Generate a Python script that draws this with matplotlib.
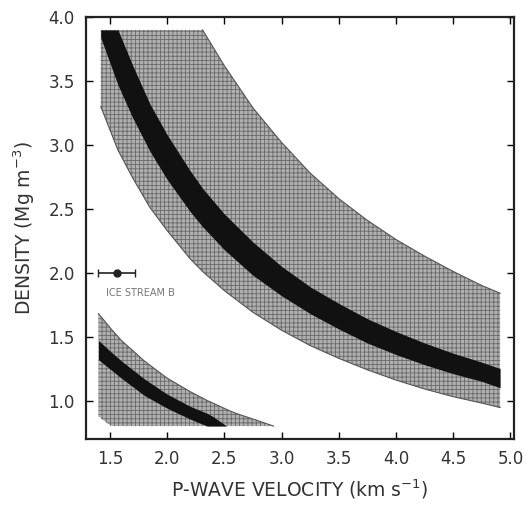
import matplotlib.pyplot as plt

# velocities (km/s) and densities (Mg/m3)
# upper band (big one)
v_up = [1.42, 1.57, 1.7, 1.85, 2.0, 2.2, 2.31, 2.5, 2.75, 3.0, 3.25, 3.5, 3.75, 4.0, 4.25, 4.5, 4.75, 4.91]
up_top = [3.90, 3.90, 3.90, 3.90, 3.90, 3.90, 3.90, 3.62, 3.29, 3.02, 2.78, 2.58, 2.41, 2.26, 2.13, 2.01, 1.90, 1.84]
up_bot = [3.30, 2.96, 2.74, 2.51, 2.33, 2.11, 2.01, 1.86, 1.69, 1.55, 1.43, 1.33, 1.24, 1.16, 1.09, 1.03, 0.98, 0.945]
up_blk_top = [3.90, 3.90, 3.62, 3.32, 3.08, 2.80, 2.66, 2.46, 2.24, 2.05, 1.89, 1.76, 1.64, 1.54, 1.45, 1.37, 1.30, 1.25]
up_blk_bot = [3.84, 3.47, 3.21, 2.95, 2.73, 2.48, 2.36, 2.18, 1.98, 1.82, 1.68, 1.56, 1.45, 1.36, 1.28, 1.21, 1.15, 1.10]

# lower band
v_lo = [1.40, 1.51, 1.6, 1.8, 2.0, 2.2, 2.35, 2.4, 2.52, 2.6, 2.8, 2.93]
lo_top = [1.68, 1.56, 1.47, 1.31, 1.175, 1.07, 1.00, 0.98, 0.93, 0.90, 0.84, 0.80]
lo_bot = [0.875, 0.80, 0.80, 0.80, 0.80, 0.80, 0.80, 0.80, 0.80, 0.80, 0.80, 0.80]
lo_blk_top = [1.47, 1.38, 1.31, 1.17, 1.05, 0.955, 0.90, 0.875, 0.80, 0.80, 0.80, 0.80]
lo_blk_bot = [1.32, 1.24, 1.175, 1.04, 0.94, 0.855, 0.80, 0.80, 0.80, 0.80, 0.80, 0.80]

# Ice Stream B point
isb_v = 1.56
isb_rho = 2.0
isb_err = 0.16

plt.rcParams['hatch.linewidth'] = 0.6
fig = plt.figure(figsize=(5.27, 5.05), dpi=100)
ax = fig.add_axes([0.163, 0.131, 0.812, 0.835])

gray = '#b0b0b0'
hatch_col = '#6a6a6a'

# big band
ax.fill_between(v_up, up_bot, up_top, facecolor=gray, edgecolor=hatch_col, hatch='++++', linewidth=0)
ax.plot(v_up[6:], up_top[6:], color='#555555', lw=0.8)
ax.plot(v_up, up_bot, color='#555555', lw=0.8)
ax.fill_between(v_up, up_blk_bot, up_blk_top, color='#111111', linewidth=0)

# small band
ax.fill_between(v_lo, lo_bot, lo_top, facecolor=gray, edgecolor=hatch_col, hatch='++++', linewidth=0)
ax.plot(v_lo, lo_top, color='#555555', lw=0.8)
ax.fill_between(v_lo, lo_blk_bot, lo_blk_top, color='#111111', linewidth=0)

# Ice Stream B
ax.errorbar(isb_v, isb_rho, xerr=isb_err, fmt='o', color='#222222', ms=5, capsize=3, elinewidth=1.2)
ax.text(1.465, 1.84, 'ICE STREAM B', fontsize=7, color='#777777', va='center')

ax.set_xlim(1.29, 5.03)
ax.set_ylim(0.70, 4.0)
ax.set_xticks([1.5, 2.0, 2.5, 3.0, 3.5, 4.0, 4.5, 5.0])
ax.set_yticks([1.0, 1.5, 2.0, 2.5, 3.0, 3.5, 4.0])
ax.set_xticklabels(['1.5', '2.0', '2.5', '3.0', '3.5', '4.0', '4.5', '5.0'])
ax.set_yticklabels(['1.0', '1.5', '2.0', '2.5', '3.0', '3.5', '4.0'])
ax.tick_params(direction='in', top=True, right=True, labeltop=False, labelright=False,
               length=5, width=1, labelsize=12, labelcolor='#333333', pad=8)
for s in ax.spines.values():
    s.set_linewidth(1.6)
    s.set_color('#222222')

ax.set_xlabel('P-WAVE VELOCITY (km s$^{-1}$)', fontsize=13.5, color='#333333', labelpad=7)
ax.set_ylabel('DENSITY (Mg m$^{-3}$)', fontsize=13.5, color='#333333', labelpad=8)

plt.savefig('out.png', dpi=100)
